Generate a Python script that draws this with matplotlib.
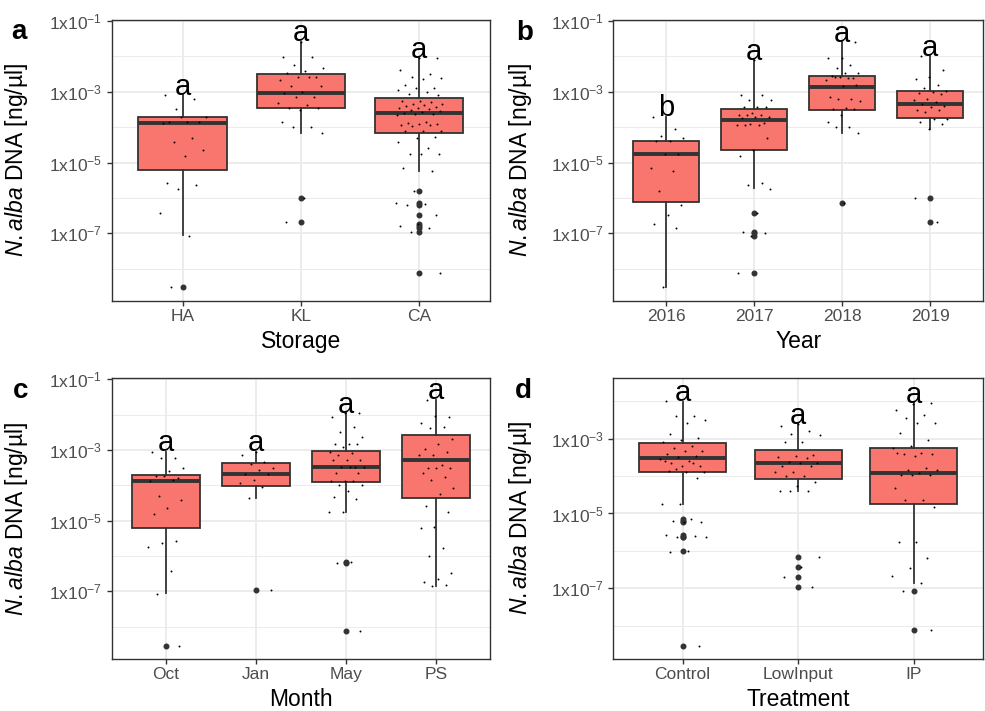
import numpy as np
import matplotlib
matplotlib.use("Agg")
import matplotlib.pyplot as plt
from matplotlib.ticker import FixedLocator, FuncFormatter, NullFormatter

plt.rcParams['font.family'] = ['Liberation Sans', 'DejaVu Sans']
plt.rcParams['mathtext.fontset'] = 'custom'
plt.rcParams['mathtext.rm'] = 'Liberation Sans'
plt.rcParams['mathtext.it'] = 'Liberation Sans:italic'
plt.rcParams['mathtext.bf'] = 'Liberation Sans:bold'

# all values are log10 of N.alba DNA [ng/ul]

# --- a: Storage ---
storage_cats = ["HA", "KL", "CA"]
storage_pts = [
    [-3.10, -3.21, -3.49, -3.72, -3.84, -3.84, -3.84, -3.72, -3.89, -4.30, -4.41, -4.64, -4.81,
     -5.57, -5.63, -5.75, -6.43, -7.06, -8.52],
    [-1.60, -2.01, -2.01, -2.24, -2.34, -2.40, -2.46, -2.59, -2.59, -2.67, -2.59, -2.84, -2.84,
     -3.00, -3.04, -3.14, -3.15, -3.31, -3.37, -3.45, -3.45, -3.51, -3.86, -3.99, -3.99, -4.17,
     -6.01, -6.67],
    [-2.05, -2.05, -2.37, -2.50, -2.58, -2.60, -2.65, -2.80, -2.88, -2.88, -2.94, -3.00, -3.05,
     -3.10, -3.25, -3.27, -3.30, -3.33, -3.35, -3.38, -3.40, -3.42, -3.45, -3.45, -3.48, -3.50,
     -3.55, -3.58, -3.60, -3.62, -3.62, -3.65, -3.85, -3.88, -3.90, -3.92, -3.95, -3.95, -3.97,
     -4.10, -4.10, -4.12, -4.27, -4.31, -4.41, -4.60, -4.76, -4.76, -4.76, -5.16, -5.23, -5.79,
     -6.15, -6.17, -6.20, -6.48, -6.73, -6.79, -6.86, -6.97, -8.13],
]
storage_q1 = [-5.21, -3.46, -4.17]
storage_med = [-3.89, -3.04, -3.59]
storage_q3 = [-3.72, -2.50, -3.18]
storage_wlo = [-7.05, -4.15, -5.23]
storage_whi = [-3.10, -1.58, -2.05]
storage_out = [[-8.52], [-6.01, -6.67],
               [-5.79, -6.15, -6.20, -6.48, -6.73, -6.79, -6.86, -6.97, -8.13]]
storage_sig = ["a", "a", "a"]

# --- b: Year ---
year_cats = ["2016", "2017", "2018", "2019"]
year_pts = [
    [-3.70, -4.06, -4.26, -4.31, -4.40, -4.40, -4.76, -4.76, -5.16, -5.23, -5.79, -6.20, -6.48,
     -6.73, -6.86, -8.52],
    [-2.10, -3.09, -3.09, -3.23, -3.23, -3.44, -3.44, -3.44, -3.61, -3.66, -3.66, -3.66, -3.72,
     -3.72, -3.75, -3.87, -3.91, -3.94, -3.94, -3.94, -4.31, -4.63, -4.81, -5.57, -5.63, -5.75,
     -6.43, -6.95, -6.98, -7.07, -8.13],
    [-1.60, -2.03, -2.03, -2.24, -2.34, -2.46, -2.46, -2.55, -2.60, -2.58, -2.67, -2.62, -2.58,
     -2.82, -2.84, -3.14, -3.19, -3.21, -3.27, -3.46, -3.49, -3.49, -3.66, -3.84, -3.98, -3.98,
     -4.15, -6.15],
    [-1.99, -2.38, -2.59, -2.65, -2.82, -2.88, -2.97, -3.00, -3.02, -3.05, -3.21, -3.23, -3.30,
     -3.35, -3.40, -3.42, -3.51, -3.51, -3.56, -3.77, -3.77, -3.84, -3.91, -4.06, -6.01, -6.67],
]
year_q1 = [-6.10, -4.63, -3.51, -3.75]
year_med = [-4.76, -3.80, -2.86, -3.35]
year_q3 = [-4.40, -3.49, -2.55, -2.97]
year_wlo = [-8.50, -5.73, -4.15, -4.06]
year_whi = [-3.70, -2.10, -1.60, -1.99]
year_out = [[], [-6.43, -6.95, -6.98, -7.07, -8.13], [-6.15], [-6.01, -6.67]]
year_sig = ["b", "a", "a", "a"]

# --- c: Month ---
month_cats = ["Oct", "Jan", "May", "PS"]
month_pts = [
    [-3.05, -3.22, -3.22, -3.50, -3.61, -3.73, -3.80, -3.73, -3.88, -3.85, -4.30, -4.42, -4.65,
     -4.82, -5.58, -5.64, -5.75, -6.44, -7.08, -8.54],
    [-3.05, -3.14, -3.33, -3.41, -3.50, -3.58, -3.69, -3.69, -3.85, -3.94, -4.04, -4.37, -6.97],
    [-1.96, -1.96, -2.06, -2.34, -2.50, -2.62, -2.82, -2.84, -2.82, -2.91, -3.05, -3.10, -3.14,
     -3.28, -3.28, -3.28, -3.47, -3.47, -3.47, -3.47, -3.66, -3.66, -3.88, -3.88, -3.88, -3.99,
     -3.99, -4.16, -4.32, -4.39, -4.75, -4.75, -6.16, -6.21, -8.12],
    [-1.58, -2.06, -2.03, -2.25, -2.34, -2.39, -2.69, -2.84, -2.97, -3.07, -3.14, -3.14, -3.42,
     -3.52, -3.52, -3.52, -3.66, -3.78, -3.85, -4.07, -4.25, -4.60, -4.75, -5.17, -5.22, -5.78,
     -6.01, -6.49, -6.65, -6.75, -6.82, -6.85],
]
month_q1 = [-5.20, -4.02, -3.92, -4.35]
month_med = [-3.88, -3.69, -3.47, -3.28]
month_q3 = [-3.71, -3.38, -3.03, -2.58]
month_wlo = [-7.06, -4.37, -4.75, -6.85]
month_whi = [-3.05, -3.05, -1.96, -1.58]
month_out = [[-8.54], [-6.97], [-6.16, -6.21, -8.12], []]
month_sig = ["a", "a", "a", "a"]

# --- d: Treatment ---
treat_cats = ["Control", "LowInput", "IP"]
treat_pts = [
    [-1.98, -2.39, -2.39, -2.50, -2.59, -2.88, -2.99, -3.04, -3.10, -3.20, -3.25, -3.33, -3.33,
     -3.40, -3.45, -3.50, -3.55, -3.60, -3.64, -3.72, -3.72, -3.60, -3.65, -3.80, -3.88, -3.88,
     -3.86, -4.06, -4.75, -4.75, -5.15, -5.20, -5.22, -5.24, -5.57, -5.59, -5.62, -5.64, -6.00,
     -6.02, -8.53],
    [-2.62, -2.65, -2.80, -2.88, -2.90, -3.10, -3.10, -3.44, -3.46, -3.49, -3.51, -3.63, -3.66,
     -3.66, -3.72, -3.72, -3.88, -3.90, -3.99, -3.99, -4.15, -4.26, -4.40, -4.40, -4.40, -6.15,
     -6.44, -6.71, -6.97],
    [-2.06, -2.08, -2.23, -2.37, -2.46, -2.57, -2.57, -2.86, -3.04, -3.20, -3.25, -3.38, -3.40,
     -3.42, -3.45, -3.38, -3.79, -3.84, -3.84, -3.93, -3.97, -3.97, -3.97, -4.33, -4.64, -4.64,
     -4.82, -5.77, -5.77, -6.18, -6.46, -6.66, -6.86, -7.07, -8.12],
]
treat_q1 = [-3.90, -4.09, -4.75]
treat_med = [-3.53, -3.66, -3.93]
treat_q3 = [-3.11, -3.30, -3.24]
treat_wlo = [-4.75, -4.40, -6.85]
treat_whi = [-2.01, -2.62, -2.06]
treat_out = [[-5.15, -5.20, -5.24, -5.57, -5.62, -5.64, -6.00, -8.53],
             [-6.15, -6.44, -6.71, -6.97], [-7.07, -8.12]]
treat_sig = ["a", "a", "a"]

FILL = '#F8766D'
DARK = '#333333'
GRID = '#EBEBEB'


def draw_panel(ax, cats, pts, q1, med, q3, wlo, whi, out, sig, xlabel, ylo, yhi, majors):
    n = len(cats)
    stats = []
    for i in range(n):
        stats.append(dict(q1=10**q1[i], med=10**med[i], q3=10**q3[i],
                          whislo=10**wlo[i], whishi=10**whi[i],
                          fliers=10**np.array(out[i], dtype=float)))
    ax.set_yscale('log')
    ax.bxp(stats, positions=np.arange(1, n + 1), widths=0.75, patch_artist=True,
           showcaps=False, zorder=2,
           boxprops=dict(facecolor=FILL, edgecolor=DARK, linewidth=1.3),
           medianprops=dict(color=DARK, linewidth=2.8, solid_capstyle='butt'),
           whiskerprops=dict(color=DARK, linewidth=1.3),
           flierprops=dict(marker='o', markerfacecolor=DARK, markeredgecolor=DARK,
                           markersize=3.3, linestyle='none'))
    for i in range(n):
        v = 10**np.array(pts[i])
        k = np.arange(len(v))
        # fixed pseudo-jitter, +-0.2 around the category
        off = 0.4 * (((k * 0.618034 + 0.37 * i + 0.13) % 1.0) - 0.5)
        ax.plot(i + 1 + off, v, 'o', color='black', markersize=1.4,
                markeredgewidth=0, zorder=3)
        ax.text(i + 1, 10**whi[i] * 1.03, sig[i], ha='center', va='baseline',
                fontsize=21, zorder=4)

    ax.set_xlim(0.4, n + 0.6)
    ax.set_ylim(10**ylo, 10**yhi)
    ax.set_xticks(np.arange(1, n + 1))
    ax.set_xticklabels(cats)
    ax.yaxis.set_major_locator(FixedLocator([10.0**e for e in majors]))
    ax.yaxis.set_major_formatter(FuncFormatter(
        lambda v, p: '1x10$^{%d}$' % int(round(np.log10(v)))))
    ax.yaxis.set_minor_locator(FixedLocator([10.0**e for e in [-2, -4, -6, -8]]))
    ax.yaxis.set_minor_formatter(NullFormatter())
    ax.tick_params(axis='y', which='minor', length=0)
    ax.tick_params(which='major', length=3.8, width=1.0, color=DARK,
                   labelcolor='#4D4D4D', labelsize=12.5, pad=2.5)
    ax.tick_params(axis='y', which='major', pad=3)
    ax.grid(True, which='major', color=GRID, linewidth=1.3)
    ax.grid(True, which='minor', axis='y', color=GRID, linewidth=0.7)
    ax.set_axisbelow(True)
    for s in ax.spines.values():
        s.set_color(DARK)
        s.set_linewidth(1.0)
    ax.set_xlabel(xlabel, fontsize=16.5, labelpad=4)
    ax.set_ylabel(r'$\mathit{N.alba}$ DNA [ng/µl]', fontsize=16.5)
    ax.yaxis.set_label_coords(-0.215, 0.5)


fig = plt.figure(figsize=(9.85, 7.11), dpi=100)
ax_a = fig.add_axes([0.1134, 0.5771, 0.3841, 0.3948])
ax_b = fig.add_axes([0.6227, 0.5771, 0.3753, 0.3948])
ax_c = fig.add_axes([0.1134, 0.0736, 0.3841, 0.3944])
ax_d = fig.add_axes([0.6227, 0.0736, 0.3753, 0.3952])

draw_panel(ax_a, storage_cats, storage_pts, storage_q1, storage_med, storage_q3,
           storage_wlo, storage_whi, storage_out, storage_sig, "Storage",
           -8.90, -0.97, [-1, -3, -5, -7])
draw_panel(ax_b, year_cats, year_pts, year_q1, year_med, year_q3,
           year_wlo, year_whi, year_out, year_sig, "Year",
           -8.90, -0.97, [-1, -3, -5, -7])
draw_panel(ax_c, month_cats, month_pts, month_q1, month_med, month_q3,
           month_wlo, month_whi, month_out, month_sig, "Month",
           -8.91, -0.97, [-1, -3, -5, -7])
draw_panel(ax_d, treat_cats, treat_pts, treat_q1, treat_med, treat_q3,
           treat_wlo, treat_whi, treat_out, treat_sig, "Treatment",
           -8.88, -1.37, [-3, -5, -7])

fig.text(0.0119, 0.9447, "a", fontsize=20, fontweight='bold', va='baseline')
fig.text(0.5239, 0.9437, "b", fontsize=20, fontweight='bold', va='baseline')
fig.text(0.0129, 0.4407, "c", fontsize=20, fontweight='bold', va='baseline')
fig.text(0.5228, 0.4398, "d", fontsize=20, fontweight='bold', va='baseline')

fig.savefig("out.png", dpi=100)
